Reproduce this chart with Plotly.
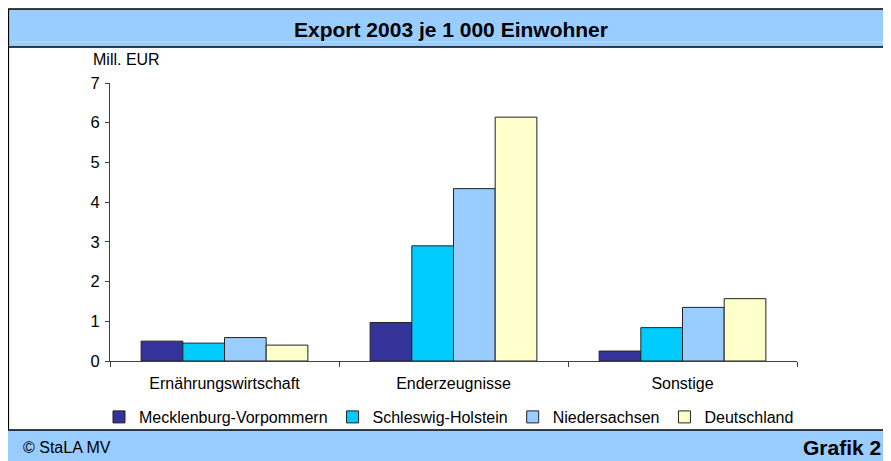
import plotly.graph_objects as go

categories = ["Ernährungswirtschaft", "Enderzeugnisse", "Sonstige"]
series_names = ["Mecklenburg-Vorpommern", "Schleswig-Holstein", "Niedersachsen", "Deutschland"]
mv_values = [0.50, 0.97, 0.25]
sh_values = [0.45, 2.90, 0.84]
ni_values = [0.59, 4.34, 1.35]
de_values = [0.40, 6.14, 1.57]
series_colors = ["#333399", "#00CCFF", "#99CCFF", "#FFFFCC"]
y_ticks = [0, 1, 2, 3, 4, 5, 6, 7]

W, H = 891, 461
OFF = 8  # page body margin
# plot area in screen pixels
L, R, T, B = 110, 797, 83, 361

def xp(px):
    return (px - L) / (R - L)

def yp(py):
    return (B - py) / (B - T)

FONT = "Liberation Sans, Arial, sans-serif"

fig = go.Figure()
for name, vals, col in zip(series_names, [mv_values, sh_values, ni_values, de_values], series_colors):
    fig.add_trace(go.Bar(
        x=categories, y=vals, name=name,
        marker=dict(color=col, line=dict(color="#222222", width=1)),
    ))

shapes = [
    # title band
    dict(type="rect", xref="paper", yref="paper", x0=xp(7), x1=xp(905), y0=yp(47), y1=yp(9),
         fillcolor="#99CCFF", line=dict(width=0), layer="below"),
    dict(type="line", xref="paper", yref="paper", x0=xp(12), x1=xp(885), y0=yp(42), y1=yp(42),
         line=dict(color="#B8DCFF", width=1), layer="below"),
    dict(type="line", xref="paper", yref="paper", x0=xp(885), x1=xp(885), y0=yp(42), y1=yp(11),
         line=dict(color="#B8DCFF", width=1), layer="below"),
    dict(type="line", xref="paper", yref="paper", x0=xp(7), x1=xp(905), y0=yp(9), y1=yp(9),
         line=dict(color="black", width=1.5)),
    dict(type="line", xref="paper", yref="paper", x0=xp(7), x1=xp(905), y0=yp(47), y1=yp(47),
         line=dict(color="black", width=1.5)),
    dict(type="line", xref="paper", yref="paper", x0=xp(8.2), x1=xp(8.2), y0=yp(9), y1=yp(430),
         line=dict(color="black", width=1.8)),
    # footer band
    dict(type="rect", xref="paper", yref="paper", x0=xp(7), x1=xp(905), y0=yp(475), y1=yp(430),
         fillcolor="#99CCFF", line=dict(width=0), layer="below"),
    dict(type="line", xref="paper", yref="paper", x0=xp(7), x1=xp(905), y0=yp(430), y1=yp(430),
         line=dict(color="black", width=1.5)),
]

annotations = [
    dict(text="<b>Export 2003 je 1 000 Einwohner</b>", xref="paper", yref="paper",
         x=xp(451), y=yp(29), xanchor="center", yanchor="middle", showarrow=False,
         font=dict(family=FONT, size=21, color="black")),
    dict(text="Mill. EUR", xref="paper", yref="paper", x=xp(91), y=yp(59),
         xanchor="left", yanchor="middle", showarrow=False,
         font=dict(family=FONT, size=16, color="black")),
    dict(text="© StaLA MV", xref="paper", yref="paper", x=xp(21), y=yp(447),
         xanchor="left", yanchor="middle", showarrow=False,
         font=dict(family=FONT, size=16, color="black")),
    dict(text="<b>Grafik 2</b>", xref="paper", yref="paper", x=xp(883), y=yp(447),
         xanchor="right", yanchor="middle", showarrow=False,
         font=dict(family=FONT, size=21, color="black")),
]

fig.update_layout(
    width=W, height=H,
    margin=dict(l=L - OFF, r=W - (R - OFF), t=T - OFF, b=H - (B - OFF), pad=0),
    paper_bgcolor="white", plot_bgcolor="white",
    barmode="group", bargap=0.272, bargroupgap=0,
    font=dict(family=FONT, size=16, color="black"),
    showlegend=True,
    legend=dict(orientation="h", x=xp(99), xanchor="left", y=yp(417), yanchor="middle",
                font=dict(family=FONT, size=16, color="black"),
                bgcolor="rgba(0,0,0,0)", traceorder="normal"),
    shapes=shapes, annotations=annotations,
    xaxis=dict(showline=True, linecolor="#404040", linewidth=1, ticks="outside", tickson="boundaries",
               ticklen=5, tickcolor="#404040", showgrid=False, zeroline=False,
               tickfont=dict(family=FONT, size=16), ticklabelstandoff=8),
    yaxis=dict(range=[0, 7], tickvals=y_ticks, showline=True, linecolor="#404040", linewidth=1,
               ticks="outside", ticklen=4, tickcolor="#404040", showgrid=False, zeroline=False,
               tickfont=dict(family=FONT, size=16.5), ticklabelstandoff=2),
)

fig.write_html("out.html")
